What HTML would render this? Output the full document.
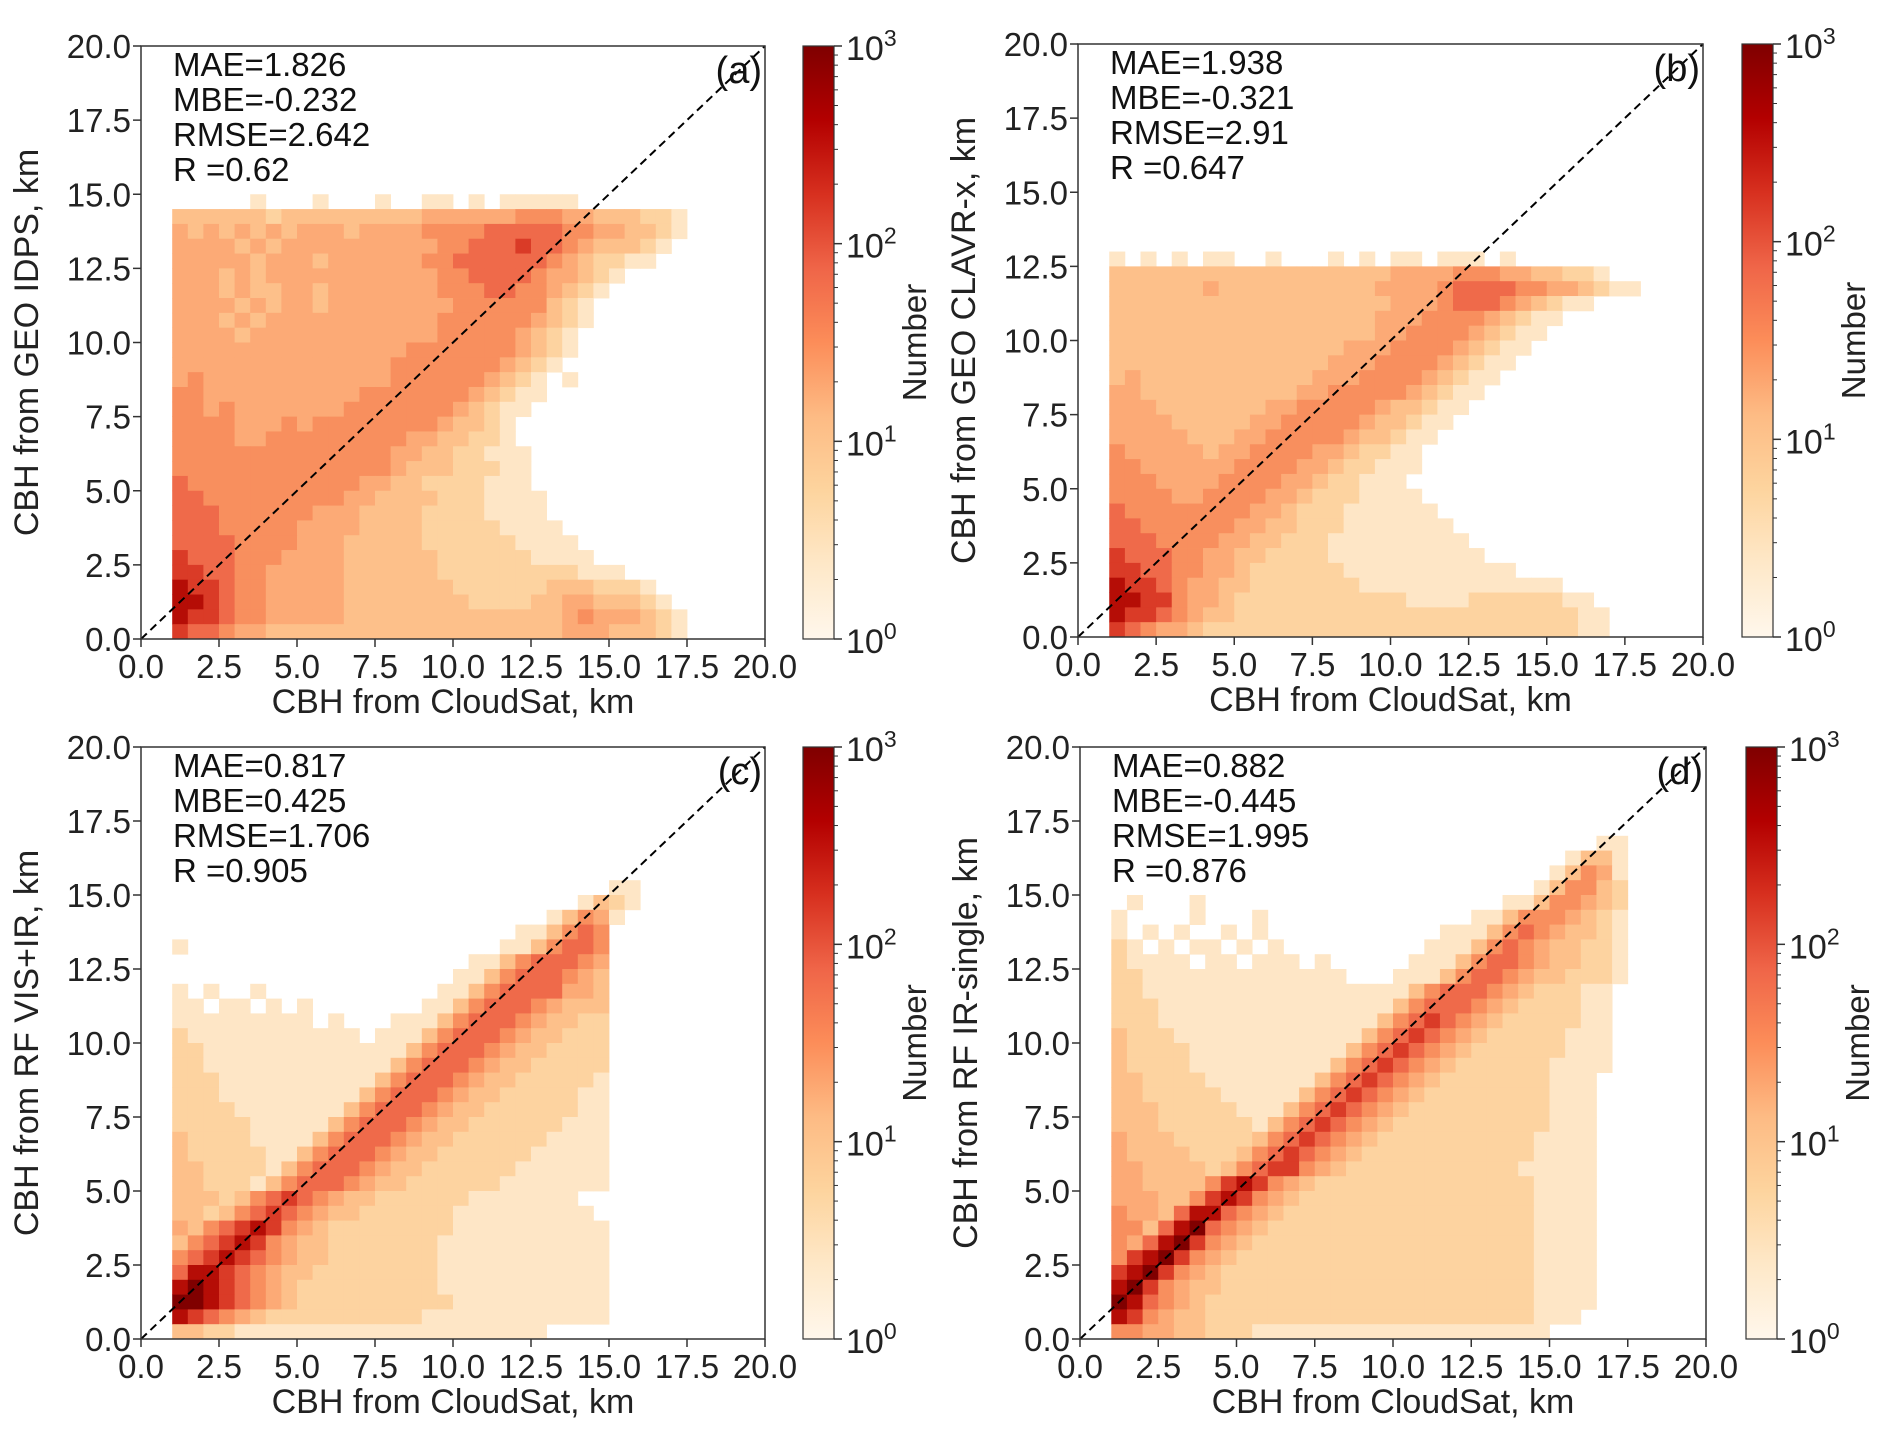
<!DOCTYPE html>
<html><head><meta charset="utf-8"><style>
html,body{margin:0;padding:0;background:#fff;}
svg{display:block;font-family:"Liberation Sans",sans-serif;}
</style></head><body>
<svg id="fig" width="1892" height="1433" viewBox="0 0 1892 1433" xmlns="http://www.w3.org/2000/svg"></svg>
<script>
// ---- data ----
const axisTicks = [0, 2.5, 5, 7.5, 10, 12.5, 15, 17.5, 20];
const tickLabels = ["0.0","2.5","5.0","7.5","10.0","12.5","15.0","17.5","20.0"];
const cbTickExp = [0, 1, 2, 3];
const binSize = 0.5;
const xLabel = "CBH from CloudSat, km";
const panelIds = ["a","b","c","d"];
const yLabels = ["CBH from GEO IDPS, km","CBH from GEO CLAVR-x, km","CBH from RF VIS+IR, km","CBH from RF IR-single, km"];
const statsA = ["MAE=1.826","MBE=-0.232","RMSE=2.642","R =0.62"];
const statsB = ["MAE=1.938","MBE=-0.321","RMSE=2.91","R =0.647"];
const statsC = ["MAE=0.817","MBE=0.425","RMSE=1.706","R =0.905"];
const statsD = ["MAE=0.882","MBE=-0.445","RMSE=1.995","R =0.876"];
// density grids: rows from y=20 (top) to y=0, each char = log-count level (0 empty, 9 max), columns start at x=1 km, 0.5 km bins
const gridA = {10:"0000010001000100110101111100000000",11:"3333332333333333444444555443332210",12:"4343434344434444555566666554433210",13:"4444343444444444455666766543332100",14:"4444434443444444556666665432211000",15:"4443434444444444455666654432100000",16:"4443433443444444455566554321000000",17:"4444343443444444445555553210000000",18:"4443434444444444455555543210000000",19:"4444344444444444455555432100000000",20:"4444444444444445555555432100000000",21:"4444444444444455555554321000000000",22:"4544444444444455555543210100000000",23:"5544444444445555555432110000000000",24:"5545444444455555554321100000000000",25:"5555444545555555543321000000000000",26:"5555445555555554433221000000000000",27:"5555555555555544332211100000000000",28:"5555555555555543332221100000000000",29:"6555555555554433222211100000000000",30:"6655555555544333322211110000000000",31:"6665555554443333222211110000000000",32:"6665555544443333222221111000000000",33:"6666555544433333222222111100000000",34:"7666555444433333322222211110000000",35:"7766554444433333322222222211100000",36:"8776554444433333332222223332221000",37:"8876554444433333333222233443332100",38:"8776554444433333333333333454443210",39:"7665443333333333333333333444333210"};
const gridB = {14:"1010101100100010101101110100000000",15:"3333333333333333334444555443322100",16:"3333334333333333344445666655443211",17:"3333333333333333334445666543211000",18:"3333333333333333344455554321100000",19:"3333333333333333344555543211000000",20:"3333333333333334445555432110000000",21:"3333333333333344455554321100000000",22:"3433333333333444555543211000000000",23:"4433333333334455555432110000000000",24:"4443333333445555543321100000000000",25:"4444333334455555433211000000000000",26:"4444433344555554332110000000000000",27:"5444443445555443221100000000000000",28:"5544444455554432211100000000000000",29:"5554444555544322111000000000000000",30:"5555445555443222111100000000000000",31:"6555555554432221111110000000000000",32:"6655555544332221111111000000000000",33:"6665555443322211111111100000000000",34:"7666554433222211111111110000000000",35:"7766554432222221111111111100000000",36:"8776544332222222111111111111100000",37:"8877544322222222222111122222211000",38:"8776543322222222222222222222221100",39:"7654432222222222222222222222221100"};
const gridC = {9:"0000000000000000000000000000110000",10:"0000000000000000000000000013210000",11:"0000000000000000000000001354100000",12:"0000000000000000000000113565000000",13:"1000000000000000000001135665000000",14:"0000000000000000000113566654000000",15:"0000000000000000001135666543000000",16:"1010010000000000011356666443000000",17:"1101101010000000113566654333000000",18:"1111111110100011135666543322000000",19:"2111111111110111356665433222000000",20:"2211111111111113566654332222000000",21:"2211111111111135666543322222000000",22:"2221111111111356665433222221000000",23:"2221111111113566654332222211000000",24:"2222111111135666543322222211000000",25:"2222211111356665433222222111000000",26:"3222211113566654332222221111000000",27:"3222221135666543322222211111000000",28:"3322221356665433222222111111000000",29:"3322213566654332222221111111000000",30:"3332356765433222222111111100000000",31:"3323567654332222221111111110000000",32:"4356787543222222221111111111000000",33:"3567875433222222211111111111000000",34:"5678765433222222211111111111000000",35:"6887654332222222211111111111000000",36:"8987654322222222211111111111000000",37:"9987654322222222221111111111000000",38:"8765432222222222111111111111000000",39:"3322111111111111111111110000000000"};
const gridD = {6:"0000000000000000000000000000000110",7:"0000000000000000000000000000013310",8:"0000000000000000000000000000135410",9:"0000000000000000000000000001355320",10:"0100010000000000000000000113554320",11:"1000010001000000000000011355543210",12:"1010100101000000000001113565433210",13:"2101011010100000000011135654332210",14:"2111101101110100000111356654332210",15:"2211111111111110001113566543322210",16:"221111111111111111135666543222110",17:"222111111111111111356665432222110",18:"222111111111111113567654322222110",19:"322211111111111135676543222221110",20:"322221111111111356765432222221110",21:"322221111111113567654322222211110",22:"332222111111135676543222222211100",23:"332222211111356765432222222211100",24:"333222221113567654322222222211100",25:"333222222135676543222222222211100",26:"433322222356765432222222222111100",27:"433332223567654322222222222111100",28:"443333235677543222222222221111100",29:"4433335787543222222222222221111",30:"4443357875432222222222222221111",31:"5443688654322222222222222221111",32:"5536896543222222222222222221111",33:"5468975432222222222222222221111",34:"5789754322222222222222222221111",35:"7897543222222222222222222221111",36:"8975433222222222222222222221111",37:"9865432222222222222222222221111",38:"8754332222222222222222222221110",39:"5544332221111111111111111111000000"};
const gridStartX = 1;

// ---- style ----
const palette = ['#fee6c6','#fdd3a0','#fdc08a','#fcaa76','#f88f5e','#ef6a4a','#da3b27','#b50d06','#800000'];
const panels = [
  {id:"a", x0:141, x1:765, y0:46, y1:639, cb:803, grid:gridA, stats:statsA, yl:yLabels[0]},
  {id:"b", x0:1078, x1:1703, y0:44, y1:637, cb:1742, grid:gridB, stats:statsB, yl:yLabels[1]},
  {id:"c", x0:141, x1:765, y0:747, y1:1339, cb:803, grid:gridC, stats:statsC, yl:yLabels[2]},
  {id:"d", x0:1080, x1:1706, y0:747, y1:1339, cb:1746, grid:gridD, stats:statsD, yl:yLabels[3]}
];
const NS = "http://www.w3.org/2000/svg";
const svg = document.getElementById('fig');
function mk(tag, attrs, parent){const e=document.createElementNS(NS,tag);for(const k in attrs)e.setAttribute(k,attrs[k]);(parent||svg).appendChild(e);return e;}

const defs = mk('defs',{});
const lg = mk('linearGradient',{id:'orrd',x1:0,y1:1,x2:0,y2:0},defs);
['#fff7ec','#fee8c8','#fdd49e','#fdbb84','#fc8d59','#ef6548','#d7301f','#b30000','#7f0000'].forEach((c,i)=>mk('stop',{offset:(i/8),'stop-color':c},lg));

panels.forEach(p=>{
  const g = mk('g',{});
  
  
  const xs = v => p.x0 + (v/20)*(p.x1-p.x0);
  const ys = v => p.y1 - (v/20)*(p.y1-p.y0);
  const hm = mk('g',{},g);
  
  
  for(const r in p.grid){
    const row = p.grid[r].padEnd(40,'0');
    const yTop = 20 - binSize*(+r);
    for(let k=0;k<row.length;k++){
      const lv = +row[k];
      if(!lv) continue;
      const xv = gridStartX + k*binSize;
      if(xv>=20) break;
      const c = mk('rect',{x:xs(xv).toFixed(2),y:ys(yTop).toFixed(2),width:(xs(xv+binSize)-xs(xv)+0.4).toFixed(2),height:(ys(yTop-binSize)-ys(yTop)+0.4).toFixed(2),fill:palette[lv-1]},hm);
      
      
    }
  }
  const dl = mk('line',{x1:xs(0),y1:ys(0),x2:xs(20),y2:ys(20),stroke:'#000','stroke-width':2,'stroke-dasharray':'8,5'},g);
  
  
  const fr = mk('rect',{x:p.x0,y:p.y0,width:p.x1-p.x0,height:p.y1-p.y0,fill:'none',stroke:'#333','stroke-width':1.5},g);
  
  
  axisTicks.forEach((t,i)=>{
    mk('line',{x1:xs(t),y1:p.y1,x2:xs(t),y2:p.y1+8,stroke:'#333','stroke-width':1.5},g);
    mk('line',{x1:p.x0,y1:ys(t),x2:p.x0-8,y2:ys(t),stroke:'#333','stroke-width':1.5},g);
    const tx = mk('text',{x:xs(t),y:p.y1+39,'font-size':33,'text-anchor':'middle',fill:'#222'},g);
    tx.textContent = tickLabels[i];
    
    
    const ty = mk('text',{x:p.x0-10,y:ys(t)+12,'font-size':33,'text-anchor':'end',fill:'#222'},g);
    ty.textContent = tickLabels[i];
    
    
  });
  const xl = mk('text',{x:(p.x0+p.x1)/2,y:p.y1+74,'font-size':34,'text-anchor':'middle',fill:'#222'},g);
  xl.textContent = xLabel;
  
  
  const yc=(p.y0+p.y1)/2, yx=p.x0-103;
  const yl = mk('text',{x:yx,y:yc,'font-size':34,'text-anchor':'middle',fill:'#222',transform:`rotate(-90 ${yx} ${yc})`},g);
  yl.textContent = p.yl;
  
  
  p.stats.forEach((s,i)=>{
    const st = mk('text',{x:p.x0+32,y:p.y0+30+i*35,'font-size':33,fill:'#111'},g);
    st.textContent = s;
    
    
  });
  const pl = mk('text',{x:p.x1-3,y:p.y0+37,'font-size':38,'text-anchor':'end',fill:'#111'},g);
  pl.textContent = '('+p.id+')';
  
  
  const cw=31;
  const cb = mk('rect',{x:p.cb,y:p.y0,width:cw,height:p.y1-p.y0,fill:'url(#orrd)',stroke:'#333','stroke-width':1.2},g);
  
  
  const cs = e => p.y1 - (e/3)*(p.y1-p.y0);
  cbTickExp.forEach(e=>{
    mk('line',{x1:p.cb+cw,y1:cs(e),x2:p.cb+cw+8,y2:cs(e),stroke:'#333','stroke-width':1.5},g);
    const t = mk('text',{x:p.cb+cw+12,y:cs(e)+14,'font-size':34,fill:'#222'},g);
    t.textContent='10';
    const sup = mk('tspan',{dy:-14,'font-size':23},t);
    sup.textContent = String(e);
    
    
    if(e<3){for(let m=2;m<10;m++){const yy=cs(e+Math.log10(m));mk('line',{x1:p.cb+cw,y1:yy,x2:p.cb+cw+4,y2:yy,stroke:'#333','stroke-width':1},g);}}
  });
  const nx=p.cb+cw+92;
  const nl = mk('text',{x:nx,y:yc,'font-size':33,'text-anchor':'middle',fill:'#222',transform:`rotate(-90 ${nx} ${yc})`},g);
  nl.textContent='Number';
  
  
});
</script>
</body></html>
